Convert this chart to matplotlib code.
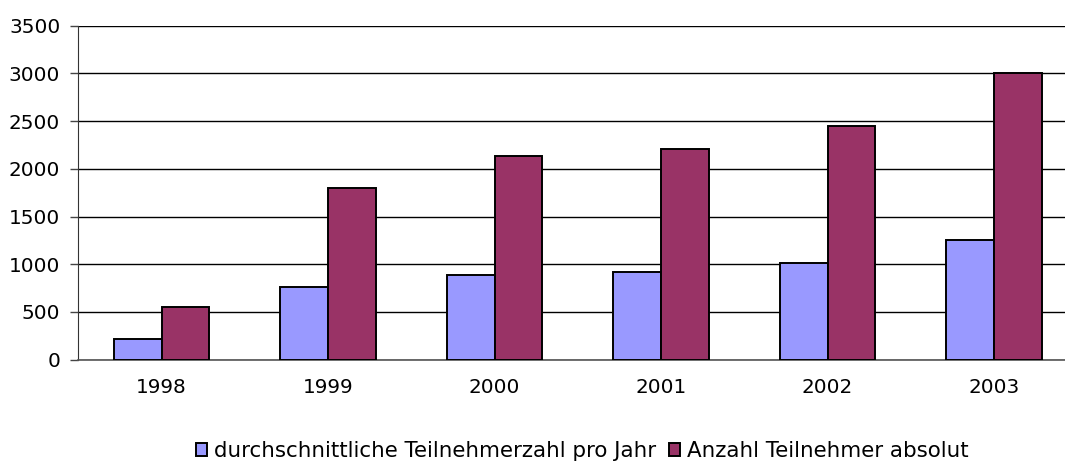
import matplotlib
matplotlib.use("Agg")
import matplotlib.pyplot as plt
import numpy as np

years = ["1998", "1999", "2000", "2001", "2002", "2003"]
avg_per_year = [220, 760, 885, 920, 1015, 1255]
total_abs = [555, 1800, 2135, 2205, 2450, 3000]
series_names = ["durchschnittliche Teilnehmerzahl pro Jahr", "Anzahl Teilnehmer absolut"]
yticks = [0, 500, 1000, 1500, 2000, 2500, 3000, 3500]

plt.rcParams['font.family'] = ['DejaVu Sans']

W, H = 1065, 462
fig = plt.figure(figsize=(W / 100, H / 100), dpi=100)
left, right, top, bottom = 78.3, 1065, 25.7, 359.7
ax = fig.add_axes([left / W, 1 - bottom / H, (right - left) / W, (bottom - top) / H])

x = np.arange(len(years))
bw = 0.287
ax.bar(x - bw / 2, avg_per_year, bw, color="#9999FF", edgecolor="black", linewidth=1.4,
       label=series_names[0], zorder=3)
ax.bar(x + bw / 2, total_abs, bw, color="#993366", edgecolor="black", linewidth=1.4,
       label=series_names[1], zorder=3)

ax.set_xlim(-0.5, -0.5 + (right - left) / 166.5)
ax.set_ylim(0, 3500)
ax.set_yticks(yticks)
ax.set_yticklabels([str(v) for v in yticks], fontsize=14.4)
ax.set_xticks(x)
ax.set_xticklabels(years, fontsize=14.4)
ax.tick_params(axis='x', length=0, pad=13)
ax.tick_params(axis='y', length=6, width=1, color="#444444", pad=7, direction='out')

ax.yaxis.grid(True, color="black", linewidth=1, zorder=0)
ax.set_axisbelow(True)
for s in ["top", "right"]:
    ax.spines[s].set_visible(False)
ax.spines["left"].set_color("#333333")
ax.spines["bottom"].set_color("#555555")
ax.spines["bottom"].set_linewidth(1.2)

fig.legend(loc="center", bbox_to_anchor=(582 / W, 1 - 451 / H), ncol=2, frameon=False,
           fontsize=15.4, handlelength=0.55, handleheight=0.55, handletextpad=0.3,
           columnspacing=0.6)

fig.savefig("out.png", dpi=100)
